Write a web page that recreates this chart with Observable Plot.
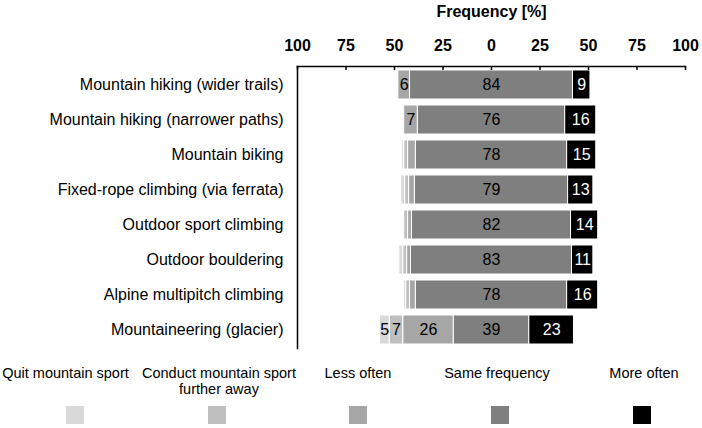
<!DOCTYPE html>
<html><head><meta charset="utf-8">
<script src="https://cdn.jsdelivr.net/npm/d3@7"></script>
<script src="https://cdn.jsdelivr.net/npm/@observablehq/plot@0.6"></script>
<style>
body{margin:0;background:#fff;font-family:"Liberation Sans",Arial,sans-serif;color:#000;}
#legend{position:relative;width:702px;height:76px;overflow:hidden;}
.lab{position:absolute;top:13px;width:220px;font-size:14.5px;line-height:16px;white-space:nowrap;text-align:center;}
.sw{position:absolute;top:54px;width:18px;height:18px;}
</style></head><body><div id="chart"></div><div id="legend"></div>
<script>
const categories = [
  "Mountain hiking (wider trails)",
  "Mountain hiking (narrower paths)",
  "Mountain biking",
  "Fixed-rope climbing (via ferrata)",
  "Outdoor sport climbing",
  "Outdoor bouldering",
  "Alpine multipitch climbing",
  "Mountaineering (glacier)"
];
const seriesNames = ["Quit mountain sport", "Conduct mountain sport further away", "Less often", "Same frequency", "More often"];
const seriesColors = ["#d9d9d9", "#bfbfbf", "#a6a6a6", "#7f7f7f", "#000000"];
const quit    = [0, 0, 1, 2, 0, 2, 1, 5];
const further = [0, 0, 2, 2, 2, 2, 2, 7];
const less    = [6, 7, 4, 3, 2, 2, 3, 26];
const same    = [84, 76, 78, 79, 82, 83, 78, 39];
const more    = [9, 16, 15, 13, 14, 11, 16, 23];
const xTicks = [-100, -75, -50, -25, 0, 25, 50, 75, 100];
const xTitle = "Frequency [%]";

// diverging layout: "Same frequency" centred on 0
const rows = [];
categories.forEach((cat, i) => {
  const h = same[i] / 2;
  let left = -h;
  rows.push({cat, series: seriesNames[3], value: same[i], x1: -h, x2: h});
  rows.push({cat, series: seriesNames[4], value: more[i], x1: h, x2: h + more[i]});
  [[2, less[i]], [1, further[i]], [0, quit[i]]].forEach(([k, v]) => {
    rows.push({cat, series: seriesNames[k], value: v, x1: left - v, x2: left});
    left -= v;
  });
});
const shown = rows.filter(d => d.value >= 5);

const marginTop = 66, plotH = 282, marginBottom = 4;
const chart = Plot.plot({
  width: 702,
  height: marginTop + plotH + marginBottom,
  marginTop, marginBottom,
  marginLeft: 297,
  marginRight: 17,
  style: {fontFamily: "'Liberation Sans', Arial, sans-serif", fontSize: "16px", color: "#000", background: "#fff"},
  x: {domain: [-100, 100]},
  y: {domain: categories, paddingInner: 0.16, paddingOuter: 0.03},
  color: {domain: seriesNames, range: seriesColors},
  marks: [
    Plot.rectX(rows.filter(d => d.value > 0), {x1: "x1", x2: "x2", y: "cat", fill: "series", stroke: "#fff", strokeWidth: 1}),
    Plot.text(shown.filter(d => d.series !== "More often"), {x: d => (d.x1 + d.x2) / 2, y: "cat", text: d => String(d.value), fill: "#000", fontSize: 16}),
    Plot.text(shown.filter(d => d.series === "More often"), {x: d => (d.x1 + d.x2) / 2, y: "cat", text: d => String(d.value), fill: "#fff", fontSize: 16}),
    Plot.frame({anchor: "top", strokeWidth: 1.5}),
    Plot.frame({anchor: "left", strokeWidth: 1.5}),
    Plot.ruleX(xTicks, {x: d => d, insetBottom: plotH - 4, strokeWidth: 1.5}),
    Plot.axisX({anchor: "top", ticks: xTicks, tickFormat: d => Math.abs(d), tickSize: 0, tickPadding: 16, fontWeight: "bold", fontSize: 16, label: null}),
    Plot.axisY({anchor: "left", tickSize: 0, tickPadding: 14, fontSize: 16, label: null}),
    Plot.text([0], {x: d => d, text: () => xTitle, frameAnchor: "top", lineAnchor: "middle", dy: -55, fontWeight: "bold", fontSize: 16})
  ]
});
document.getElementById("chart").appendChild(chart);

const legendCenters = [74.5, 217, 358, 500, 642];
const labelShift = [-9, 2, 0, -3, 2];
const legendLabels = ["Quit mountain sport", "Conduct mountain sport<br>further away", "Less often", "Same frequency", "More often"];
const lg = document.getElementById("legend");
seriesNames.forEach((s, i) => {
  const lab = document.createElement("div");
  lab.className = "lab";
  lab.style.left = (legendCenters[i] + labelShift[i] - 110) + "px";
  lab.innerHTML = legendLabels[i];
  lg.appendChild(lab);
  const sw = document.createElement("div");
  sw.className = "sw";
  sw.style.left = (legendCenters[i] - 9) + "px";
  sw.style.background = seriesColors[i];
  lg.appendChild(sw);
});
</script></body></html>
